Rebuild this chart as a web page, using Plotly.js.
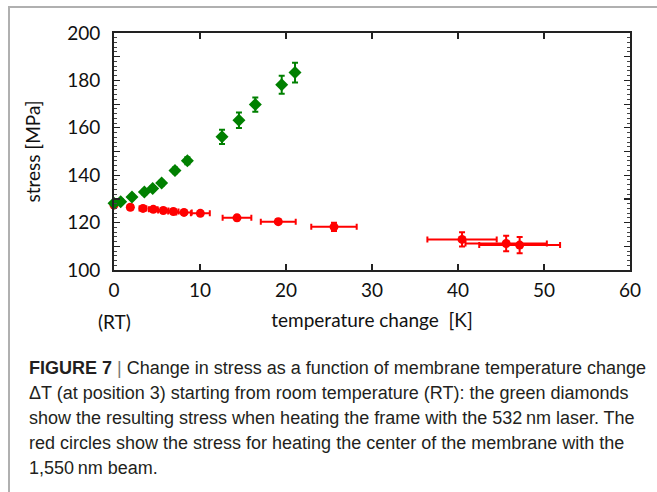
<!DOCTYPE html>
<html>
<head>
<meta charset="utf-8">
<script src="https://cdn.plot.ly/plotly-3.0.1.min.js"></script>
<style>
  html, body { margin: 0; padding: 0; background: #fff; }
  #wrap { position: relative; width: 657px; height: 492px; overflow: hidden; }
  #chart { position: absolute; left: 0; top: 0; width: 657px; height: 492px; }
  #frame { position: absolute; left: 8px; top: 6px; width: 700px; height: 600px;
           border-top: 2px solid #b0b0b0; border-left: 2px solid #b0b0b0; pointer-events: none; }
</style>
</head>
<body>
<div id="wrap">
  <div id="chart"></div>
  <div id="frame"></div>
</div>
<script>
// Green diamonds: heating the frame with the 532 nm laser
const greenX = [0, 0.78, 2.09, 3.53, 4.5, 5.54, 7.09, 8.53, 12.56, 14.53, 16.43, 19.5, 21.05];
const greenY = [128.2, 128.8, 130.8, 132.9, 134.4, 136.7, 142.0, 146.1, 156.2, 163.2, 169.8, 178.2, 183.3];
const greenYErr = [1, 1, 1, 1, 1, 1, 1.2, 1.5, 3, 3.3, 3, 3.8, 4.2];

// Red circles: heating the membrane center with the 1,550 nm beam
const redX = [0, 1.9, 3.37, 4.57, 5.73, 6.9, 8.14, 10.04, 14.3, 19.1, 25.58, 40.47, 45.6, 47.17];
const redY = [127.4, 126.5, 126.0, 125.6, 125.1, 124.7, 124.3, 123.9, 122.0, 120.4, 118.2, 112.9, 111.2, 110.5];
const redXErr = [0.2, 0.3, 0.4, 0.5, 0.6, 0.6, 0.9, 1.1, 1.67, 2.03, 2.64, 4.03, 4.73, 4.7];
const redYErr = [0.8, 0.8, 0.8, 0.8, 0.8, 0.8, 0.8, 0.8, 1.0, 1.0, 1.7, 3.0, 3.3, 3.4];

const yTickVals = [100, 110, 120, 130, 140, 150, 160, 170, 180, 190, 200];
const yTickText = ['100', '', '120', '', '140', '', '160', '', '180', '', '200'];
const xTickVals = [0, 10, 20, 30, 40, 50, 60];

const captionLines = [
  '<b>FIGURE 7</b> <span style="color:#777">|</span> Change in stress as a function of membrane temperature change',
  '\u0394T (at position 3) starting from room temperature (RT): the green diamonds',
  'show the resulting stress when heating the frame with the 532\u2009nm laser. The',
  'red circles show the stress for heating the center of the membrane with the',
  '1,550\u2009nm beam.'
];

const red = '#ff0000';
const green = '#008000';
const axisFont = { family: 'Lato, Carlito, "Open Sans", sans-serif', size: 19, color: '#111' };
const captionFont = { family: '"Liberation Sans", Arial, sans-serif', size: 18, color: '#231f20' };

const traces = [
  {
    type: 'scatter', mode: 'markers', x: redX, y: redY,
    marker: { symbol: 'circle', size: 9, color: red },
    error_x: { type: 'data', array: redXErr, visible: true, color: red, thickness: 2, width: 3 },
    error_y: { type: 'data', array: redYErr, visible: true, color: red, thickness: 2, width: 3 },
    showlegend: false, cliponaxis: false
  },
  {
    type: 'scatter', mode: 'markers', x: greenX, y: greenY,
    marker: { symbol: 'diamond', size: 10, color: green },
    error_y: { type: 'data', array: greenYErr, visible: true, color: green, thickness: 2, width: 3 },
    showlegend: false, cliponaxis: false
  }
];

// plot area: 237 px high, from y=33 to y=270 in page pixels
const plotTop = 33, plotH = 237;
function paperY(py) { return (plotTop + plotH - py) / plotH; }

const captionAnnotations = captionLines.map((line, i) => ({
  text: line, x: -0.1686, xref: 'paper', y: paperY(368 + 25 * i), yref: 'paper',
  xanchor: 'left', yanchor: 'middle', align: 'left', showarrow: false, font: captionFont
}));

const layout = {
  width: 657, height: 492,
  margin: { l: 114, r: 27, t: plotTop, b: 492 - plotTop - plotH },
  paper_bgcolor: '#fff', plot_bgcolor: '#fff',
  font: axisFont,
  showlegend: false,
  xaxis: {
    range: [0, 60], tickvals: xTickVals, ticks: 'inside', ticklen: 6, tickwidth: 1.2,
    tickcolor: '#222', showgrid: false, zeroline: false,
    showline: true, linecolor: '#222', linewidth: 2, mirror: 'ticks',
    tickfont: axisFont, ticklabelstandoff: 2,
    title: { text: 'temperature change\u00a0\u00a0[K]', font: axisFont, standoff: 14 }
  },
  yaxis: {
    range: [100, 200], tickvals: yTickVals, ticktext: yTickText, ticks: 'inside', ticklen: 6, tickwidth: 1.2,
    tickcolor: '#222', showgrid: false, zeroline: false,
    showline: true, linecolor: '#222', linewidth: 2, mirror: 'ticks',
    minor: { dtick: 2, ticks: 'inside', ticklen: 3, tickcolor: '#444', tickwidth: 1, showgrid: false },
    tickfont: axisFont, ticklabelstandoff: 8,
    title: { text: 'stress [MPa]', font: axisFont, standoff: 21 }
  },
  annotations: [
    { text: '(RT)', x: 0, xref: 'x', y: paperY(321), yref: 'paper', xanchor: 'center', yanchor: 'middle',
      showarrow: false, font: axisFont }
  ].concat(captionAnnotations)
};

Plotly.newPlot('chart', traces, layout, { displayModeBar: false, staticPlot: true });
</script>
</body>
</html>
